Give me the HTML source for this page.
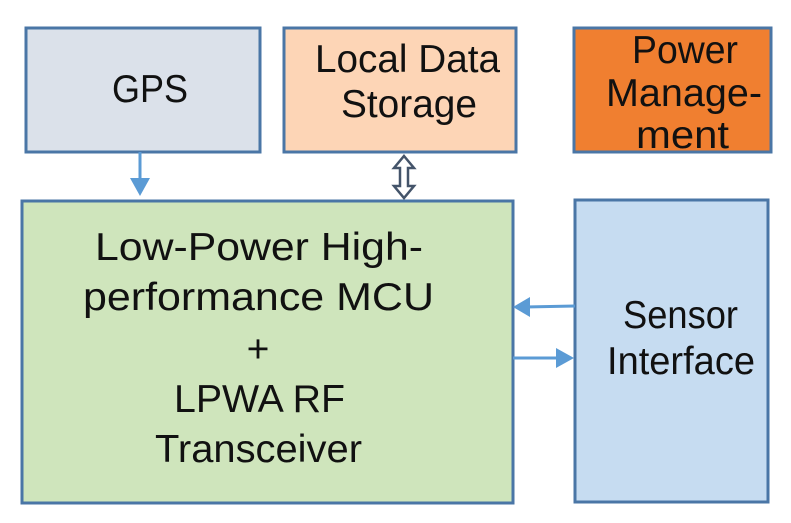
<!DOCTYPE html>
<html><head><style>html,body{margin:0;padding:0;background:#fff}svg{display:block}</style></head>
<body>
<svg width="791" height="523" viewBox="0 0 791 523" xmlns="http://www.w3.org/2000/svg" font-family="Liberation Sans, sans-serif" font-size="39" fill="#111">
<g stroke="#4a76a6" stroke-width="3">
<rect x="26" y="28" width="234" height="124" fill="#dbe1ea"/>
<rect x="284" y="28" width="232" height="124" fill="#fdd5b6"/>
<rect x="574" y="28" width="197" height="124" fill="#f07f30"/>
<rect x="22" y="201" width="491" height="302" fill="#cfe5bc"/>
<rect x="575" y="200" width="193" height="302" fill="#c6dcf1"/>
</g>
<g stroke="#5b9bd5" stroke-width="3" fill="#5b9bd5">
<line x1="140" y1="152" x2="140" y2="180"/>
<polygon points="130,178 150,178 140,196" stroke="none"/>
<line x1="575" y1="306" x2="525" y2="307"/>
<polygon points="530,297 530,317 513,307" stroke="none"/>
<line x1="513" y1="358" x2="560" y2="358"/>
<polygon points="556,348 556,368 574,358" stroke="none"/>
</g>
<polygon points="404,156 414,168 408,168 408,186 414,186 404,198 394,186 400,186 400,168 394,168" fill="#fff" stroke="#44546a" stroke-width="2.5"/>
<text x="112" y="102" textLength="76" lengthAdjust="spacingAndGlyphs">GPS</text>
<text x="315" y="72" textLength="185" lengthAdjust="spacingAndGlyphs">Local Data</text>
<text x="341" y="117" textLength="136" lengthAdjust="spacingAndGlyphs">Storage</text>
<text x="632" y="63" textLength="106" lengthAdjust="spacingAndGlyphs">Power</text>
<text x="606" y="106" textLength="156" lengthAdjust="spacingAndGlyphs">Manage-</text>
<text x="636" y="148" textLength="93" lengthAdjust="spacingAndGlyphs">ment</text>
<text x="95" y="260" textLength="328" lengthAdjust="spacingAndGlyphs">Low-Power High-</text>
<text x="83" y="310" textLength="351" lengthAdjust="spacingAndGlyphs">performance MCU</text>
<text x="258" y="362" text-anchor="middle">+</text>
<text x="174" y="412" textLength="171" lengthAdjust="spacingAndGlyphs">LPWA RF</text>
<text x="155" y="462" textLength="207" lengthAdjust="spacingAndGlyphs">Transceiver</text>
<text x="623" y="328" textLength="115" lengthAdjust="spacingAndGlyphs">Sensor</text>
<text x="607" y="374" textLength="148" lengthAdjust="spacingAndGlyphs">Interface</text>
</svg>
</body></html>
